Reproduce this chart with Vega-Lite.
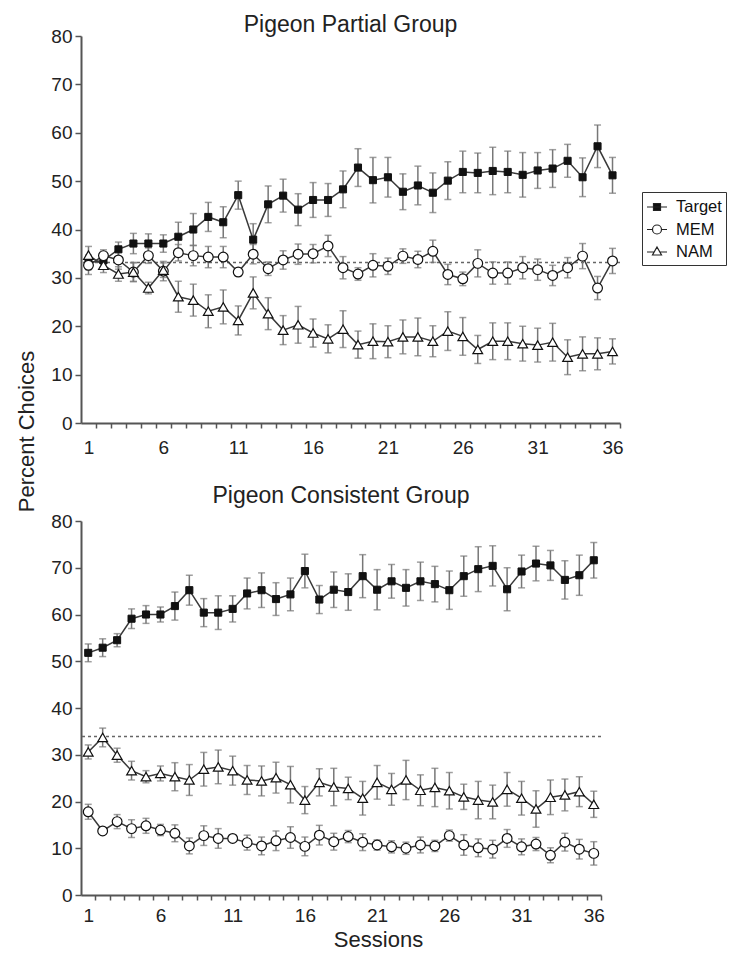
{
  "$schema": "https://vega.github.io/schema/vega-lite/v6.json",
  "background": "white",
  "padding": {"left": 15, "top": 14, "right": 5, "bottom": 5},
  "config": {
    "font": "Liberation Sans",
    "view": {"stroke": null},
    "axis": {"grid": false, "domainColor": "#555", "domainWidth": 2, "tickColor": "#555", "tickWidth": 1.5, "labelColor": "#222", "titleColor": "#222", "labelFont": "Liberation Sans", "labelFontSize": 19, "titleFont": "Liberation Sans", "titleFontWeight": "normal", "titleFontSize": 22},
    "legend": {"symbolStrokeColor": "#222", "symbolStrokeWidth": 1.2},
    "title": {"font": "Liberation Sans", "fontSize": 23, "fontWeight": "normal", "color": "#222", "frame": "group"}
  },
  "datasets": {
    "partial": [
      {"session":1,"series":"Target","pct":33.2,"sem":1.5},{"session":2,"series":"Target","pct":33.6,"sem":1.5},{"session":3,"series":"Target","pct":35.9,"sem":1.5},{"session":4,"series":"Target","pct":37.1,"sem":2.1},{"session":5,"series":"Target","pct":37.1,"sem":2.0},{"session":6,"series":"Target","pct":37.1,"sem":1.8},{"session":7,"series":"Target","pct":38.5,"sem":3.0},{"session":8,"series":"Target","pct":40.0,"sem":3.3},{"session":9,"series":"Target","pct":42.6,"sem":3.0},{"session":10,"series":"Target","pct":41.5,"sem":3.2},{"session":11,"series":"Target","pct":47.1,"sem":2.9},{"session":12,"series":"Target","pct":37.9,"sem":3.3},{"session":13,"series":"Target","pct":45.2,"sem":3.8},{"session":14,"series":"Target","pct":47.0,"sem":3.4},{"session":15,"series":"Target","pct":44.1,"sem":3.3},{"session":16,"series":"Target","pct":46.1,"sem":3.6},{"session":17,"series":"Target","pct":46.1,"sem":3.4},{"session":18,"series":"Target","pct":48.3,"sem":3.8},{"session":19,"series":"Target","pct":52.8,"sem":3.9},{"session":20,"series":"Target","pct":50.2,"sem":4.7},{"session":21,"series":"Target","pct":50.8,"sem":4.1},{"session":22,"series":"Target","pct":47.8,"sem":3.7},{"session":23,"series":"Target","pct":49.1,"sem":4.0},{"session":24,"series":"Target","pct":47.6,"sem":4.1},{"session":25,"series":"Target","pct":50.1,"sem":3.9},{"session":26,"series":"Target","pct":51.9,"sem":4.3},{"session":27,"series":"Target","pct":51.7,"sem":4.1},{"session":28,"series":"Target","pct":52.1,"sem":4.9},{"session":29,"series":"Target","pct":51.9,"sem":4.3},{"session":30,"series":"Target","pct":51.3,"sem":4.6},{"session":31,"series":"Target","pct":52.2,"sem":3.7},{"session":32,"series":"Target","pct":52.6,"sem":3.9},{"session":33,"series":"Target","pct":54.2,"sem":3.4},{"session":34,"series":"Target","pct":50.8,"sem":4.0},{"session":35,"series":"Target","pct":57.2,"sem":4.4},{"session":36,"series":"Target","pct":51.2,"sem":3.7},
      {"session":1,"series":"MEM","pct":32.6,"sem":1.9},{"session":2,"series":"MEM","pct":34.6,"sem":1.2},{"session":3,"series":"MEM","pct":33.7,"sem":1.9},{"session":4,"series":"MEM","pct":31.2,"sem":1.9},{"session":5,"series":"MEM","pct":34.6,"sem":1.6},{"session":6,"series":"MEM","pct":31.4,"sem":2.0},{"session":7,"series":"MEM","pct":35.2,"sem":1.7},{"session":8,"series":"MEM","pct":34.6,"sem":2.1},{"session":9,"series":"MEM","pct":34.3,"sem":2.2},{"session":10,"series":"MEM","pct":34.3,"sem":2.2},{"session":11,"series":"MEM","pct":31.2,"sem":0.8},{"session":12,"series":"MEM","pct":34.9,"sem":2.0},{"session":13,"series":"MEM","pct":31.9,"sem":1.4},{"session":14,"series":"MEM","pct":33.7,"sem":1.9},{"session":15,"series":"MEM","pct":34.9,"sem":2.1},{"session":16,"series":"MEM","pct":35.0,"sem":1.9},{"session":17,"series":"MEM","pct":36.6,"sem":2.2},{"session":18,"series":"MEM","pct":32.1,"sem":2.3},{"session":19,"series":"MEM","pct":30.8,"sem":1.3},{"session":20,"series":"MEM","pct":32.6,"sem":2.4},{"session":21,"series":"MEM","pct":32.4,"sem":1.7},{"session":22,"series":"MEM","pct":34.5,"sem":1.5},{"session":23,"series":"MEM","pct":33.8,"sem":1.7},{"session":24,"series":"MEM","pct":35.5,"sem":2.3},{"session":25,"series":"MEM","pct":30.7,"sem":2.1},{"session":26,"series":"MEM","pct":29.8,"sem":1.4},{"session":27,"series":"MEM","pct":33.0,"sem":2.8},{"session":28,"series":"MEM","pct":31.0,"sem":2.3},{"session":29,"series":"MEM","pct":31.0,"sem":2.3},{"session":30,"series":"MEM","pct":32.1,"sem":2.3},{"session":31,"series":"MEM","pct":31.7,"sem":2.2},{"session":32,"series":"MEM","pct":30.5,"sem":2.1},{"session":33,"series":"MEM","pct":32.1,"sem":2.1},{"session":34,"series":"MEM","pct":34.5,"sem":2.6},{"session":35,"series":"MEM","pct":27.9,"sem":2.4},{"session":36,"series":"MEM","pct":33.5,"sem":2.6},
      {"session":1,"series":"NAM","pct":34.7,"sem":1.8},{"session":2,"series":"NAM","pct":32.6,"sem":1.5},{"session":3,"series":"NAM","pct":30.8,"sem":1.5},{"session":4,"series":"NAM","pct":31.2,"sem":2.0},{"session":5,"series":"NAM","pct":27.9,"sem":1.2},{"session":6,"series":"NAM","pct":31.6,"sem":1.5},{"session":7,"series":"NAM","pct":26.1,"sem":3.2},{"session":8,"series":"NAM","pct":25.4,"sem":3.3},{"session":9,"series":"NAM","pct":23.1,"sem":3.4},{"session":10,"series":"NAM","pct":24.0,"sem":3.5},{"session":11,"series":"NAM","pct":21.2,"sem":3.0},{"session":12,"series":"NAM","pct":26.9,"sem":3.3},{"session":13,"series":"NAM","pct":22.6,"sem":3.3},{"session":14,"series":"NAM","pct":19.2,"sem":3.0},{"session":15,"series":"NAM","pct":20.3,"sem":3.8},{"session":16,"series":"NAM","pct":18.6,"sem":2.9},{"session":17,"series":"NAM","pct":17.4,"sem":2.9},{"session":18,"series":"NAM","pct":19.4,"sem":3.8},{"session":19,"series":"NAM","pct":16.2,"sem":2.8},{"session":20,"series":"NAM","pct":16.9,"sem":3.6},{"session":21,"series":"NAM","pct":16.8,"sem":3.3},{"session":22,"series":"NAM","pct":17.8,"sem":3.5},{"session":23,"series":"NAM","pct":17.8,"sem":3.9},{"session":24,"series":"NAM","pct":16.9,"sem":3.2},{"session":25,"series":"NAM","pct":19.0,"sem":4.0},{"session":26,"series":"NAM","pct":17.9,"sem":3.9},{"session":27,"series":"NAM","pct":15.2,"sem":2.9},{"session":28,"series":"NAM","pct":16.9,"sem":3.8},{"session":29,"series":"NAM","pct":16.9,"sem":3.8},{"session":30,"series":"NAM","pct":16.4,"sem":3.6},{"session":31,"series":"NAM","pct":16.1,"sem":3.5},{"session":32,"series":"NAM","pct":16.7,"sem":3.9},{"session":33,"series":"NAM","pct":13.6,"sem":3.6},{"session":34,"series":"NAM","pct":14.3,"sem":3.5},{"session":35,"series":"NAM","pct":14.3,"sem":3.3},{"session":36,"series":"NAM","pct":14.8,"sem":2.6}
    ],
    "consistent": [
      {"session":1,"series":"Target","pct":51.8,"sem":1.9},{"session":2,"series":"Target","pct":52.9,"sem":1.9},{"session":3,"series":"Target","pct":54.5,"sem":1.4},{"session":4,"series":"Target","pct":59.1,"sem":2.1},{"session":5,"series":"Target","pct":60.0,"sem":1.9},{"session":6,"series":"Target","pct":60.0,"sem":1.6},{"session":7,"series":"Target","pct":61.8,"sem":3.0},{"session":8,"series":"Target","pct":65.2,"sem":3.2},{"session":9,"series":"Target","pct":60.4,"sem":3.0},{"session":10,"series":"Target","pct":60.4,"sem":3.6},{"session":11,"series":"Target","pct":61.2,"sem":2.8},{"session":12,"series":"Target","pct":64.5,"sem":3.3},{"session":13,"series":"Target","pct":65.2,"sem":3.7},{"session":14,"series":"Target","pct":63.3,"sem":3.5},{"session":15,"series":"Target","pct":64.3,"sem":3.5},{"session":16,"series":"Target","pct":69.3,"sem":3.6},{"session":17,"series":"Target","pct":63.2,"sem":3.0},{"session":18,"series":"Target","pct":65.3,"sem":3.8},{"session":19,"series":"Target","pct":64.8,"sem":3.9},{"session":20,"series":"Target","pct":68.2,"sem":4.6},{"session":21,"series":"Target","pct":65.3,"sem":4.3},{"session":22,"series":"Target","pct":67.1,"sem":3.6},{"session":23,"series":"Target","pct":65.7,"sem":3.9},{"session":24,"series":"Target","pct":67.1,"sem":4.1},{"session":25,"series":"Target","pct":66.5,"sem":3.8},{"session":26,"series":"Target","pct":65.2,"sem":4.1},{"session":27,"series":"Target","pct":68.2,"sem":4.3},{"session":28,"series":"Target","pct":69.7,"sem":4.8},{"session":29,"series":"Target","pct":70.4,"sem":4.3},{"session":30,"series":"Target","pct":65.4,"sem":4.6},{"session":31,"series":"Target","pct":69.2,"sem":3.5},{"session":32,"series":"Target","pct":70.9,"sem":3.7},{"session":33,"series":"Target","pct":70.5,"sem":3.2},{"session":34,"series":"Target","pct":67.4,"sem":4.1},{"session":35,"series":"Target","pct":68.4,"sem":4.3},{"session":36,"series":"Target","pct":71.6,"sem":3.8},
      {"session":1,"series":"MEM","pct":17.8,"sem":1.6},{"session":2,"series":"MEM","pct":13.7,"sem":0.6},{"session":3,"series":"MEM","pct":15.7,"sem":1.5},{"session":4,"series":"MEM","pct":14.2,"sem":1.9},{"session":5,"series":"MEM","pct":14.8,"sem":1.6},{"session":6,"series":"MEM","pct":13.9,"sem":1.2},{"session":7,"series":"MEM","pct":13.2,"sem":1.8},{"session":8,"series":"MEM","pct":10.5,"sem":1.7},{"session":9,"series":"MEM","pct":12.7,"sem":2.1},{"session":10,"series":"MEM","pct":12.1,"sem":2.1},{"session":11,"series":"MEM","pct":12.1,"sem":0.7},{"session":12,"series":"MEM","pct":11.2,"sem":1.6},{"session":13,"series":"MEM","pct":10.5,"sem":1.9},{"session":14,"series":"MEM","pct":11.6,"sem":2.1},{"session":15,"series":"MEM","pct":12.3,"sem":2.3},{"session":16,"series":"MEM","pct":10.4,"sem":2.0},{"session":17,"series":"MEM","pct":12.8,"sem":2.1},{"session":18,"series":"MEM","pct":11.4,"sem":1.8},{"session":19,"series":"MEM","pct":12.5,"sem":1.3},{"session":20,"series":"MEM","pct":11.3,"sem":1.8},{"session":21,"series":"MEM","pct":10.7,"sem":1.1},{"session":22,"series":"MEM","pct":10.3,"sem":1.3},{"session":23,"series":"MEM","pct":10.0,"sem":1.3},{"session":24,"series":"MEM","pct":10.7,"sem":1.7},{"session":25,"series":"MEM","pct":10.5,"sem":1.2},{"session":26,"series":"MEM","pct":12.7,"sem":1.2},{"session":27,"series":"MEM","pct":10.7,"sem":2.2},{"session":28,"series":"MEM","pct":10.1,"sem":1.9},{"session":29,"series":"MEM","pct":9.8,"sem":1.9},{"session":30,"series":"MEM","pct":12.1,"sem":1.9},{"session":31,"series":"MEM","pct":10.3,"sem":1.7},{"session":32,"series":"MEM","pct":10.9,"sem":1.4},{"session":33,"series":"MEM","pct":8.5,"sem":1.6},{"session":34,"series":"MEM","pct":11.3,"sem":1.9},{"session":35,"series":"MEM","pct":9.8,"sem":2.1},{"session":36,"series":"MEM","pct":8.9,"sem":2.5},
      {"session":1,"series":"NAM","pct":30.6,"sem":1.5},{"session":2,"series":"NAM","pct":33.7,"sem":2.0},{"session":3,"series":"NAM","pct":29.9,"sem":1.5},{"session":4,"series":"NAM","pct":26.6,"sem":2.0},{"session":5,"series":"NAM","pct":25.3,"sem":1.3},{"session":6,"series":"NAM","pct":26.0,"sem":1.6},{"session":7,"series":"NAM","pct":25.3,"sem":3.0},{"session":8,"series":"NAM","pct":24.6,"sem":3.3},{"session":9,"series":"NAM","pct":26.9,"sem":3.6},{"session":10,"series":"NAM","pct":27.4,"sem":3.6},{"session":11,"series":"NAM","pct":26.6,"sem":3.1},{"session":12,"series":"NAM","pct":24.6,"sem":3.1},{"session":13,"series":"NAM","pct":24.4,"sem":3.2},{"session":14,"series":"NAM","pct":25.1,"sem":3.3},{"session":15,"series":"NAM","pct":23.6,"sem":3.9},{"session":16,"series":"NAM","pct":20.3,"sem":2.9},{"session":17,"series":"NAM","pct":24.1,"sem":2.9},{"session":18,"series":"NAM","pct":23.1,"sem":4.0},{"session":19,"series":"NAM","pct":22.8,"sem":2.4},{"session":20,"series":"NAM","pct":20.7,"sem":3.6},{"session":21,"series":"NAM","pct":24.1,"sem":3.6},{"session":22,"series":"NAM","pct":22.6,"sem":3.4},{"session":23,"series":"NAM","pct":24.6,"sem":4.2},{"session":24,"series":"NAM","pct":22.4,"sem":3.3},{"session":25,"series":"NAM","pct":23.0,"sem":4.1},{"session":26,"series":"NAM","pct":22.3,"sem":3.9},{"session":27,"series":"NAM","pct":21.0,"sem":2.7},{"session":28,"series":"NAM","pct":20.3,"sem":4.0},{"session":29,"series":"NAM","pct":19.9,"sem":3.6},{"session":30,"series":"NAM","pct":22.6,"sem":3.6},{"session":31,"series":"NAM","pct":20.7,"sem":3.6},{"session":32,"series":"NAM","pct":18.4,"sem":3.9},{"session":33,"series":"NAM","pct":20.9,"sem":3.7},{"session":34,"series":"NAM","pct":21.4,"sem":3.4},{"session":35,"series":"NAM","pct":22.1,"sem":3.2},{"session":36,"series":"NAM","pct":19.4,"sem":2.8}
    ],
    "chancePartial": [{"chance": 33.2}],
    "chanceConsistent": [{"chance": 33.9}]
  },
  "bounds": "flush",
  "spacing": 98,
  "resolve": {
    "scale": {"x": "independent", "y": "independent", "shape": "independent", "fill": "independent", "stroke": "independent"},
    "legend": {"shape": "independent", "fill": "independent", "stroke": "independent"}
  },
  "vconcat": [
    {
      "width": 539,
      "height": 387,
      "title": {"text": "Pigeon Partial Group", "offset": -10},
      "layer": [
        {
          "data": {"name": "chancePartial"},
          "mark": {"type": "rule", "strokeDash": [3, 3], "color": "#666", "strokeWidth": 1.5},
          "encoding": {
            "y": {"field": "chance", "type": "quantitative", "scale": {"domain": [0, 80], "nice": false}, "axis": {"values": [0,10,20,30,40,50,60,70,80], "title": "Percent Choices", "titleX": -55, "titleY": 395, "titleAlign": "center", "titleBaseline": "middle", "titleAngle": 270, "tickSize": 6, "labelPadding": 3}}
          }
        },
        {
          "data": {"name": "partial"},
          "mark": {"type": "errorbar", "ticks": {"size": 7, "color": "#777"}, "rule": {"color": "#777", "strokeWidth": 1.5}, "thickness": 1.5},
          "encoding": {
            "x": {"field": "session", "type": "quantitative", "scale": {"domain": [0.5, 36.5], "nice": false, "zero": false},
              "axis": {"values": [1,1.5,2.5,3.5,4.5,5.5,6,6.5,7.5,8.5,9.5,10.5,11,11.5,12.5,13.5,14.5,15.5,16,16.5,17.5,18.5,19.5,20.5,21,21.5,22.5,23.5,24.5,25.5,26,26.5,27.5,28.5,29.5,30.5,31,31.5,32.5,33.5,34.5,35.5,36,36.5],
                "labelExpr": "datum.value % 1 === 0 ? datum.label : ''", "tickOpacity": {"condition": {"test": "datum.value % 1 === 0", "value": 0}, "value": 1},
                "title": null, "tickSize": 5, "labelPadding": 10, "labelFlush": false, "labelOverlap": false, "labelBound": false}},
            "y": {"field": "pct", "type": "quantitative", "scale": {"domain": [0, 80], "nice": false}, "axis": {"values": [0,10,20,30,40,50,60,70,80], "title": "Percent Choices", "titleX": -55, "titleY": 395, "titleAlign": "center", "titleBaseline": "middle", "titleAngle": 270, "tickSize": 6, "labelPadding": 3}},
            "yError": {"field": "sem"},
            "detail": {"field": "series"}
          }
        },
        {
          "data": {"name": "partial"},
          "mark": {"type": "line", "color": "#3a3a3a", "strokeWidth": 1.5},
          "encoding": {
            "x": {"field": "session", "type": "quantitative", "scale": {"domain": [0.5, 36.5], "nice": false, "zero": false},
              "axis": {"values": [1,1.5,2.5,3.5,4.5,5.5,6,6.5,7.5,8.5,9.5,10.5,11,11.5,12.5,13.5,14.5,15.5,16,16.5,17.5,18.5,19.5,20.5,21,21.5,22.5,23.5,24.5,25.5,26,26.5,27.5,28.5,29.5,30.5,31,31.5,32.5,33.5,34.5,35.5,36,36.5],
                "labelExpr": "datum.value % 1 === 0 ? datum.label : ''", "tickOpacity": {"condition": {"test": "datum.value % 1 === 0", "value": 0}, "value": 1},
                "title": null, "tickSize": 5, "labelPadding": 10, "labelFlush": false, "labelOverlap": false, "labelBound": false}},
            "y": {"field": "pct", "type": "quantitative", "scale": {"domain": [0, 80], "nice": false}, "axis": {"values": [0,10,20,30,40,50,60,70,80], "title": "Percent Choices", "titleX": -55, "titleY": 395, "titleAlign": "center", "titleBaseline": "middle", "titleAngle": 270, "tickSize": 6, "labelPadding": 3}},
            "detail": {"field": "series"}
          }
        },
        {
          "data": {"name": "partial"},
          "transform": [{"filter": "datum.series === 'Target'"}],
          "mark": {"type": "point", "shape": "square", "filled": true, "fill": "#111", "stroke": "#111", "strokeWidth": 1, "size": 50, "opacity": 1},
          "encoding": {
            "x": {"field": "session", "type": "quantitative", "scale": {"domain": [0.5, 36.5], "nice": false, "zero": false},
              "axis": {"values": [1,1.5,2.5,3.5,4.5,5.5,6,6.5,7.5,8.5,9.5,10.5,11,11.5,12.5,13.5,14.5,15.5,16,16.5,17.5,18.5,19.5,20.5,21,21.5,22.5,23.5,24.5,25.5,26,26.5,27.5,28.5,29.5,30.5,31,31.5,32.5,33.5,34.5,35.5,36,36.5],
                "labelExpr": "datum.value % 1 === 0 ? datum.label : ''", "tickOpacity": {"condition": {"test": "datum.value % 1 === 0", "value": 0}, "value": 1},
                "title": null, "tickSize": 5, "labelPadding": 10, "labelFlush": false, "labelOverlap": false, "labelBound": false}},
            "y": {"field": "pct", "type": "quantitative", "scale": {"domain": [0, 80], "nice": false}, "axis": {"values": [0,10,20,30,40,50,60,70,80], "title": "Percent Choices", "titleX": -55, "titleY": 395, "titleAlign": "center", "titleBaseline": "middle", "titleAngle": 270, "tickSize": 6, "labelPadding": 3}}
          }
        },
        {
          "data": {"name": "partial"},
          "transform": [{"filter": "datum.series === 'MEM'"}],
          "mark": {"type": "point", "shape": "circle", "filled": true, "fill": "white", "stroke": "#111", "strokeWidth": 1.2, "size": 95, "opacity": 1},
          "encoding": {
            "x": {"field": "session", "type": "quantitative", "scale": {"domain": [0.5, 36.5], "nice": false, "zero": false},
              "axis": {"values": [1,1.5,2.5,3.5,4.5,5.5,6,6.5,7.5,8.5,9.5,10.5,11,11.5,12.5,13.5,14.5,15.5,16,16.5,17.5,18.5,19.5,20.5,21,21.5,22.5,23.5,24.5,25.5,26,26.5,27.5,28.5,29.5,30.5,31,31.5,32.5,33.5,34.5,35.5,36,36.5],
                "labelExpr": "datum.value % 1 === 0 ? datum.label : ''", "tickOpacity": {"condition": {"test": "datum.value % 1 === 0", "value": 0}, "value": 1},
                "title": null, "tickSize": 5, "labelPadding": 10, "labelFlush": false, "labelOverlap": false, "labelBound": false}},
            "y": {"field": "pct", "type": "quantitative", "scale": {"domain": [0, 80], "nice": false}, "axis": {"values": [0,10,20,30,40,50,60,70,80], "title": "Percent Choices", "titleX": -55, "titleY": 395, "titleAlign": "center", "titleBaseline": "middle", "titleAngle": 270, "tickSize": 6, "labelPadding": 3}}
          }
        },
        {
          "data": {"name": "partial"},
          "transform": [{"filter": "datum.series === 'NAM'"}],
          "mark": {"type": "point", "shape": "triangle-up", "filled": true, "fill": "white", "stroke": "#111", "strokeWidth": 1.2, "size": 95, "opacity": 1},
          "encoding": {
            "x": {"field": "session", "type": "quantitative", "scale": {"domain": [0.5, 36.5], "nice": false, "zero": false},
              "axis": {"values": [1,1.5,2.5,3.5,4.5,5.5,6,6.5,7.5,8.5,9.5,10.5,11,11.5,12.5,13.5,14.5,15.5,16,16.5,17.5,18.5,19.5,20.5,21,21.5,22.5,23.5,24.5,25.5,26,26.5,27.5,28.5,29.5,30.5,31,31.5,32.5,33.5,34.5,35.5,36,36.5],
                "labelExpr": "datum.value % 1 === 0 ? datum.label : ''", "tickOpacity": {"condition": {"test": "datum.value % 1 === 0", "value": 0}, "value": 1},
                "title": null, "tickSize": 5, "labelPadding": 10, "labelFlush": false, "labelOverlap": false, "labelBound": false}},
            "y": {"field": "pct", "type": "quantitative", "scale": {"domain": [0, 80], "nice": false}, "axis": {"values": [0,10,20,30,40,50,60,70,80], "title": "Percent Choices", "titleX": -55, "titleY": 395, "titleAlign": "center", "titleBaseline": "middle", "titleAngle": 270, "tickSize": 6, "labelPadding": 3}}
          }
        },
        {
          "data": {"name": "partial"},
          "transform": [{"filter": "datum.session < 0"}],
          "mark": {"type": "point", "filled": false, "strokeWidth": 1.2, "size": 400, "opacity": 1},
          "encoding": {
            "x": {"field": "session", "type": "quantitative", "scale": {"domain": [0.5, 36.5], "nice": false, "zero": false},
              "axis": {"values": [1,1.5,2.5,3.5,4.5,5.5,6,6.5,7.5,8.5,9.5,10.5,11,11.5,12.5,13.5,14.5,15.5,16,16.5,17.5,18.5,19.5,20.5,21,21.5,22.5,23.5,24.5,25.5,26,26.5,27.5,28.5,29.5,30.5,31,31.5,32.5,33.5,34.5,35.5,36,36.5],
                "labelExpr": "datum.value % 1 === 0 ? datum.label : ''", "tickOpacity": {"condition": {"test": "datum.value % 1 === 0", "value": 0}, "value": 1},
                "title": null, "tickSize": 5, "labelPadding": 10, "labelFlush": false, "labelOverlap": false, "labelBound": false}},
            "y": {"field": "pct", "type": "quantitative", "scale": {"domain": [0, 80], "nice": false}, "axis": {"values": [0,10,20,30,40,50,60,70,80], "title": "Percent Choices", "titleX": -55, "titleY": 395, "titleAlign": "center", "titleBaseline": "middle", "titleAngle": 270, "tickSize": 6, "labelPadding": 3}},
            "shape": {"field": "series", "type": "nominal",
              "scale": {"domain": ["Target", "MEM", "NAM"], "range": ["M-1,0H1M-0.35,-0.35H0.35V0.35H-0.35Z", "M-1,0H-0.45M0.45,0H1M-0.45,0A0.45,0.45,0,1,1,0.45,0A0.45,0.45,0,1,1,-0.45,0Z", "M-1,0H-0.28M0.28,0H1M0,-0.5L0.45,0.3L-0.45,0.3Z"]},
              "legend": {"title": null, "orient": "none", "legendX": 561, "legendY": 156, "strokeColor": "#333", "fillColor": "white", "padding": 4, "labelFont": "Liberation Sans", "labelFontSize": 16.5, "labelColor": "#111", "labelOffset": 8, "symbolSize": 400, "rowPadding": 2.5, "symbolStrokeColor": "#222", "symbolStrokeWidth": 1.2,
                "encode": {"symbols": {"update": {"stroke": {"value": "#222"}, "strokeWidth": {"value": 1.2}}}}}},
            "fill": {"field": "series", "type": "nominal",
              "scale": {"domain": ["Target", "MEM", "NAM"], "range": ["#111", "white", "white"]},
              "legend": {"title": null, "orient": "none", "legendX": 561, "legendY": 156, "strokeColor": "#333", "fillColor": "white", "padding": 4, "labelFont": "Liberation Sans", "labelFontSize": 16.5, "labelColor": "#111", "labelOffset": 8, "symbolSize": 400, "rowPadding": 2.5, "symbolStrokeColor": "#222", "symbolStrokeWidth": 1.2,
                "encode": {"symbols": {"update": {"stroke": {"value": "#222"}, "strokeWidth": {"value": 1.2}}}}}},
            "stroke": {"field": "series", "type": "nominal",
              "scale": {"domain": ["Target", "MEM", "NAM"], "range": ["#222", "#222", "#222"]},
              "legend": {"title": null, "orient": "none", "legendX": 561, "legendY": 156, "strokeColor": "#333", "fillColor": "white", "padding": 4, "labelFont": "Liberation Sans", "labelFontSize": 16.5, "labelColor": "#111", "labelOffset": 8, "symbolSize": 400, "rowPadding": 2.5, "symbolStrokeColor": "#222", "symbolStrokeWidth": 1.2,
                "encode": {"symbols": {"update": {"stroke": {"value": "#222"}, "strokeWidth": {"value": 1.2}}}}}}
          }
        }
      ]
    },
    {
      "width": 520,
      "height": 374,
      "title": {"text": "Pigeon Consistent Group", "offset": 4},
      "layer": [
        {
          "data": {"name": "chanceConsistent"},
          "mark": {"type": "rule", "strokeDash": [3, 3], "color": "#666", "strokeWidth": 1.5},
          "encoding": {
            "y": {"field": "chance", "type": "quantitative", "scale": {"domain": [0, 80], "nice": false}, "axis": {"values": [0,10,20,30,40,50,60,70,80], "title": null, "tickSize": 6, "labelPadding": 3}}
          }
        },
        {
          "data": {"name": "consistent"},
          "mark": {"type": "errorbar", "ticks": {"size": 7, "color": "#777"}, "rule": {"color": "#777", "strokeWidth": 1.5}, "thickness": 1.5},
          "encoding": {
            "x": {"field": "session", "type": "quantitative", "scale": {"domain": [0.5, 36.5], "nice": false, "zero": false},
              "axis": {"values": [1,1.5,2.5,3.5,4.5,5.5,6,6.5,7.5,8.5,9.5,10.5,11,11.5,12.5,13.5,14.5,15.5,16,16.5,17.5,18.5,19.5,20.5,21,21.5,22.5,23.5,24.5,25.5,26,26.5,27.5,28.5,29.5,30.5,31,31.5,32.5,33.5,34.5,35.5,36,36.5],
                "labelExpr": "datum.value % 1 === 0 ? datum.label : ''", "tickOpacity": {"condition": {"test": "datum.value % 1 === 0", "value": 0}, "value": 1},
                "title": "Sessions", "titleX": 297, "titleY": 34, "titleAlign": "center", "titleBaseline": "top", "tickSize": 5, "labelPadding": 6, "labelFlush": false, "labelOverlap": false, "labelBound": false}},
            "y": {"field": "pct", "type": "quantitative", "scale": {"domain": [0, 80], "nice": false}, "axis": {"values": [0,10,20,30,40,50,60,70,80], "title": null, "tickSize": 6, "labelPadding": 3}},
            "yError": {"field": "sem"},
            "detail": {"field": "series"}
          }
        },
        {
          "data": {"name": "consistent"},
          "mark": {"type": "line", "color": "#3a3a3a", "strokeWidth": 1.5},
          "encoding": {
            "x": {"field": "session", "type": "quantitative", "scale": {"domain": [0.5, 36.5], "nice": false, "zero": false},
              "axis": {"values": [1,1.5,2.5,3.5,4.5,5.5,6,6.5,7.5,8.5,9.5,10.5,11,11.5,12.5,13.5,14.5,15.5,16,16.5,17.5,18.5,19.5,20.5,21,21.5,22.5,23.5,24.5,25.5,26,26.5,27.5,28.5,29.5,30.5,31,31.5,32.5,33.5,34.5,35.5,36,36.5],
                "labelExpr": "datum.value % 1 === 0 ? datum.label : ''", "tickOpacity": {"condition": {"test": "datum.value % 1 === 0", "value": 0}, "value": 1},
                "title": "Sessions", "titleX": 297, "titleY": 34, "titleAlign": "center", "titleBaseline": "top", "tickSize": 5, "labelPadding": 6, "labelFlush": false, "labelOverlap": false, "labelBound": false}},
            "y": {"field": "pct", "type": "quantitative", "scale": {"domain": [0, 80], "nice": false}, "axis": {"values": [0,10,20,30,40,50,60,70,80], "title": null, "tickSize": 6, "labelPadding": 3}},
            "detail": {"field": "series"}
          }
        },
        {
          "data": {"name": "consistent"},
          "transform": [{"filter": "datum.series === 'Target'"}],
          "mark": {"type": "point", "shape": "square", "filled": true, "fill": "#111", "stroke": "#111", "strokeWidth": 1, "size": 50, "opacity": 1},
          "encoding": {
            "x": {"field": "session", "type": "quantitative", "scale": {"domain": [0.5, 36.5], "nice": false, "zero": false},
              "axis": {"values": [1,1.5,2.5,3.5,4.5,5.5,6,6.5,7.5,8.5,9.5,10.5,11,11.5,12.5,13.5,14.5,15.5,16,16.5,17.5,18.5,19.5,20.5,21,21.5,22.5,23.5,24.5,25.5,26,26.5,27.5,28.5,29.5,30.5,31,31.5,32.5,33.5,34.5,35.5,36,36.5],
                "labelExpr": "datum.value % 1 === 0 ? datum.label : ''", "tickOpacity": {"condition": {"test": "datum.value % 1 === 0", "value": 0}, "value": 1},
                "title": "Sessions", "titleX": 297, "titleY": 34, "titleAlign": "center", "titleBaseline": "top", "tickSize": 5, "labelPadding": 6, "labelFlush": false, "labelOverlap": false, "labelBound": false}},
            "y": {"field": "pct", "type": "quantitative", "scale": {"domain": [0, 80], "nice": false}, "axis": {"values": [0,10,20,30,40,50,60,70,80], "title": null, "tickSize": 6, "labelPadding": 3}}
          }
        },
        {
          "data": {"name": "consistent"},
          "transform": [{"filter": "datum.series === 'MEM'"}],
          "mark": {"type": "point", "shape": "circle", "filled": true, "fill": "white", "stroke": "#111", "strokeWidth": 1.2, "size": 95, "opacity": 1},
          "encoding": {
            "x": {"field": "session", "type": "quantitative", "scale": {"domain": [0.5, 36.5], "nice": false, "zero": false},
              "axis": {"values": [1,1.5,2.5,3.5,4.5,5.5,6,6.5,7.5,8.5,9.5,10.5,11,11.5,12.5,13.5,14.5,15.5,16,16.5,17.5,18.5,19.5,20.5,21,21.5,22.5,23.5,24.5,25.5,26,26.5,27.5,28.5,29.5,30.5,31,31.5,32.5,33.5,34.5,35.5,36,36.5],
                "labelExpr": "datum.value % 1 === 0 ? datum.label : ''", "tickOpacity": {"condition": {"test": "datum.value % 1 === 0", "value": 0}, "value": 1},
                "title": "Sessions", "titleX": 297, "titleY": 34, "titleAlign": "center", "titleBaseline": "top", "tickSize": 5, "labelPadding": 6, "labelFlush": false, "labelOverlap": false, "labelBound": false}},
            "y": {"field": "pct", "type": "quantitative", "scale": {"domain": [0, 80], "nice": false}, "axis": {"values": [0,10,20,30,40,50,60,70,80], "title": null, "tickSize": 6, "labelPadding": 3}}
          }
        },
        {
          "data": {"name": "consistent"},
          "transform": [{"filter": "datum.series === 'NAM'"}],
          "mark": {"type": "point", "shape": "triangle-up", "filled": true, "fill": "white", "stroke": "#111", "strokeWidth": 1.2, "size": 95, "opacity": 1},
          "encoding": {
            "x": {"field": "session", "type": "quantitative", "scale": {"domain": [0.5, 36.5], "nice": false, "zero": false},
              "axis": {"values": [1,1.5,2.5,3.5,4.5,5.5,6,6.5,7.5,8.5,9.5,10.5,11,11.5,12.5,13.5,14.5,15.5,16,16.5,17.5,18.5,19.5,20.5,21,21.5,22.5,23.5,24.5,25.5,26,26.5,27.5,28.5,29.5,30.5,31,31.5,32.5,33.5,34.5,35.5,36,36.5],
                "labelExpr": "datum.value % 1 === 0 ? datum.label : ''", "tickOpacity": {"condition": {"test": "datum.value % 1 === 0", "value": 0}, "value": 1},
                "title": "Sessions", "titleX": 297, "titleY": 34, "titleAlign": "center", "titleBaseline": "top", "tickSize": 5, "labelPadding": 6, "labelFlush": false, "labelOverlap": false, "labelBound": false}},
            "y": {"field": "pct", "type": "quantitative", "scale": {"domain": [0, 80], "nice": false}, "axis": {"values": [0,10,20,30,40,50,60,70,80], "title": null, "tickSize": 6, "labelPadding": 3}}
          }
        }
      ]
    }
  ]
}
